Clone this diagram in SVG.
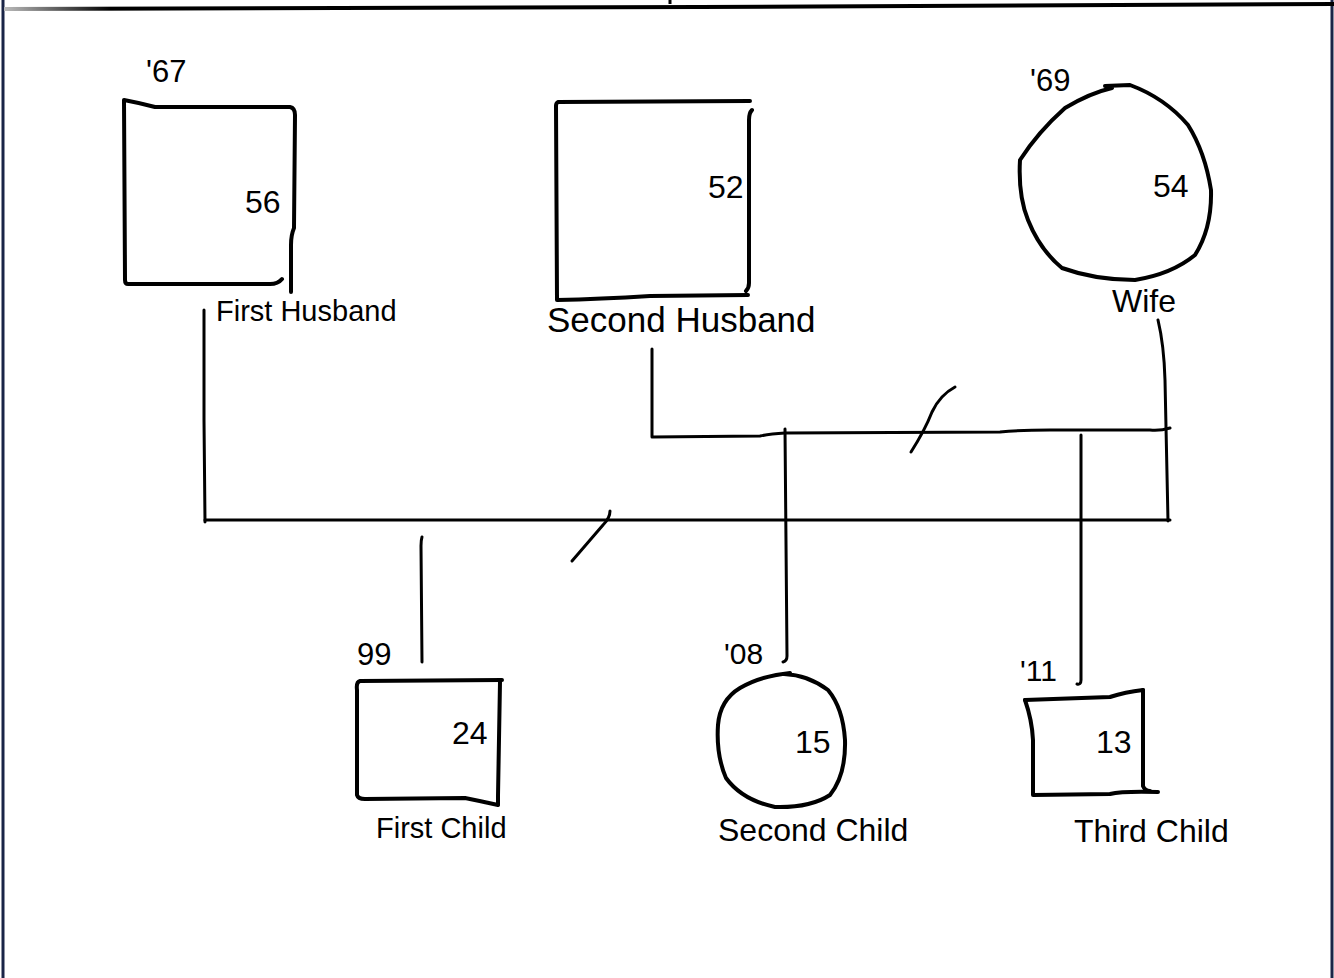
<svg xmlns="http://www.w3.org/2000/svg" width="1334" height="978" viewBox="0 0 1334 978">
<defs>
<linearGradient id="topg" x1="0" y1="0" x2="1" y2="0">
<stop offset="0" stop-color="#bbbbbb"/>
<stop offset="0.08" stop-color="#000000"/>
<stop offset="1" stop-color="#000000"/>
</linearGradient>
</defs>
<style>
.frame{fill:none;stroke:#1a2447;stroke-width:3}
.hand{fill:none;stroke:#000;stroke-width:4;stroke-linecap:round;stroke-linejoin:round}
.line{fill:none;stroke:#000;stroke-width:3;stroke-linecap:round;stroke-linejoin:round}
text{font-family:"Liberation Sans",Arial,sans-serif;fill:#000}
.lbl{font-size:29px}
.lblb{font-size:32px}
.num{font-size:32px}
.yr{font-size:30px}
</style>
<rect width="1334" height="978" fill="#fff"/>
<g id="frame">
<line class="frame" x1="3" y1="0" x2="3" y2="978"/>
<line class="frame" x1="1332" y1="0" x2="1332" y2="978"/>
<path d="M4,9 L700,7 L1334,4" fill="none" stroke="url(#topg)" stroke-width="4"/>
<line x1="670" y1="0" x2="670" y2="4" stroke="#000" stroke-width="3"/>
</g>
<g id="connectors">
<path class="line" d="M204,310 L204,420 L205,522"/>
<path class="line" d="M205,520 L1170,520"/>
<path class="line" d="M572,561 Q590,540 603,525 Q610,518 610,511"/>
<path class="line" d="M422,537 Q421,540 421,546 L422,662"/>
<path class="line" d="M652,349 L652,437 L760,436 Q770,434 785,433 L1000,432 Q1020,430 1050,430 L1150,430 Q1160,431 1170,428"/>
<path class="line" d="M911,452 Q925,430 932,412 Q940,395 955,387"/>
<path class="line" d="M785,429 L787,656 Q787,661 783,662"/>
<path class="line" d="M1081,435 L1081,680 Q1081,685 1077,684"/>
<path class="line" d="M1158,320 Q1164,345 1165,380 L1168,521"/>
</g>
<g id="first-husband">
<path class="hand" d="M282,279 Q278,284 270,284 L128,284 Q125,284 125,280 L124,100 Q140,103 155,107 L290,107 Q295,108 295,115 L294,228 Q291,235 291,245 L291,292"/>
<text class="yr" x="146" y="82" style="font-size:31px">'67</text>
<text class="num" x="245" y="213">56</text>
<text class="lbl" x="216" y="321">First Husband</text>
</g>
<g id="second-husband">
<path class="hand" d="M750,101 L558,102 Q556,103 556,106 L557,300 Q600,299 650,296 L748,295"/>
<path class="hand" d="M752,110 Q749,113 749,120 L749,283 Q749,288 746,291"/>
<text class="num" x="708" y="198">52</text>
<text class="lblb" x="547" y="332" style="font-size:35px">Second Husband</text>
</g>
<g id="wife">
<path class="hand" d="M1105,86 L1130,85 Q1165,98 1188,125 Q1205,152 1211,190 Q1212,228 1195,255 Q1172,274 1135,280 Q1095,280 1062,268 Q1040,250 1028,220 Q1018,195 1020,160 Q1038,132 1065,108 Q1090,93 1112,88"/>
<text class="yr" x="1030" y="91" style="font-size:31px">'69</text>
<text class="num" x="1153" y="197">54</text>
<text class="lblb" x="1112" y="312">Wife</text>
</g>
<g id="first-child">
<path class="hand" d="M502,680 L360,681 Q356,682 357,690 L357,795 Q358,799 365,799 L465,798 Q480,801 498,805"/>
<path class="hand" d="M500,682 L498,796 L498,804"/>
<text class="yr" x="357" y="665" style="font-size:31px">99</text>
<text class="num" x="452" y="744">24</text>
<text class="lbl" x="376" y="838">First Child</text>
</g>
<g id="second-child">
<path class="hand" d="M784,674 Q808,675 828,690 Q843,708 845,740 Q846,775 830,795 Q810,808 775,807 Q742,800 726,778 Q716,755 718,725 Q720,700 740,688 Q760,676 790,673"/>
<text class="yr" x="724" y="664">'08</text>
<text class="num" x="795" y="753">15</text>
<text class="lblb" x="718" y="841">Second Child</text>
</g>
<g id="third-child">
<path class="hand" d="M1025,700 L1110,697 Q1125,692 1143,690"/>
<path class="hand" d="M1025,700 Q1032,720 1033,740 L1033,795 L1110,794 Q1122,791 1158,792"/>
<path class="hand" d="M1143,690 L1143,786 Q1145,791 1150,791"/>
<text class="yr" x="1020" y="681">'11</text>
<text class="num" x="1096" y="753">13</text>
<text class="lblb" x="1074" y="842">Third Child</text>
</g>
</svg>
